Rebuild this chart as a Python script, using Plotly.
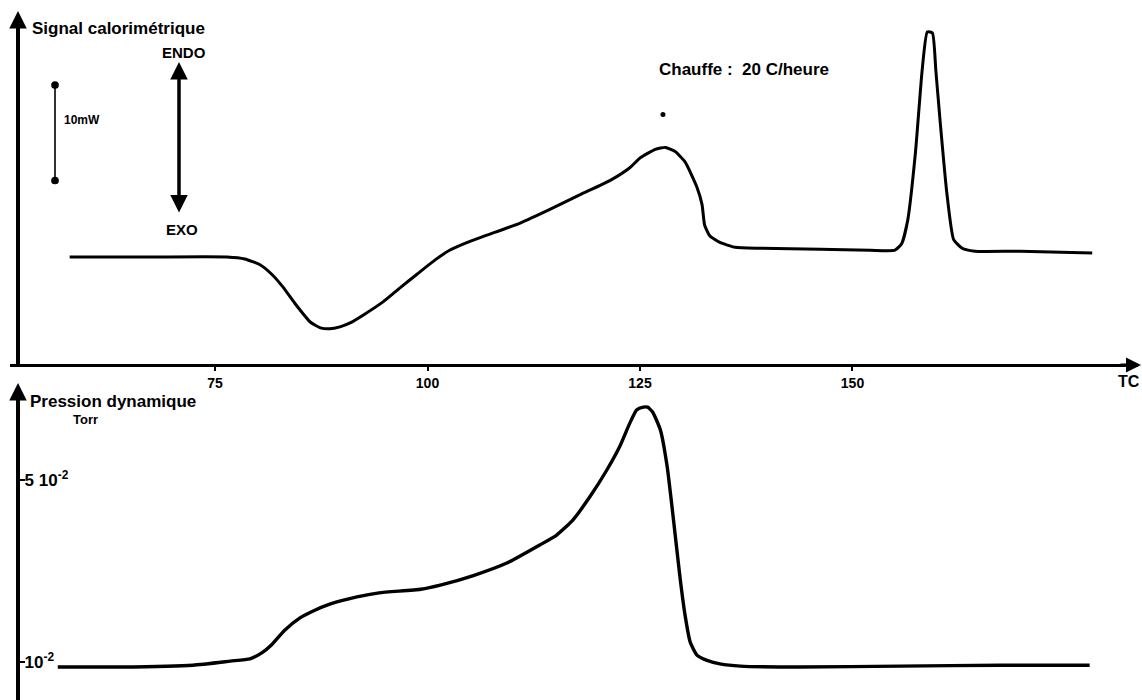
import plotly.graph_objects as go

# ---- Data ----
# Calorimetric signal (mW, ENDO upwards, baseline = 0) vs temperature (°C)
T_cal = [57.9, 67.4, 76.4, 78.5, 80.3, 81.7, 83.0, 84.5, 86.2, 87.4,
         88.5, 89.7, 90.9, 92.6, 94.8, 96.8, 98.8, 100.9, 102.6, 104.4,
         106.5, 110.9, 114.4, 117.9, 121.5, 123.8, 125.0, 126.8, 128.0, 129.1,
         130.3, 131.7, 132.3, 132.6, 133.2, 134.4, 136.2, 139.1, 146.2, 152.1,
         155.0, 155.8, 156.5, 157.4, 158.2, 158.8, 159.4, 159.8, 160.3, 161.1,
         161.9, 162.9, 164.4, 169.7, 178.2]
S_cal = [0, 0, 0, -0.2, -0.8, -1.8, -3.1, -4.9, -6.7, -7.3,
         -7.4, -7.2, -6.8, -5.9, -4.6, -3.15, -1.75, -0.3, 0.7, 1.4,
         2.1, 3.5, 4.9, 6.4, 7.9, 9.2, 10.2, 11.1, 11.3, 10.9,
         9.8, 7.2, 5.4, 3.3, 2.2, 1.5, 1.0, 0.9, 0.8, 0.7,
         0.7, 1.4, 3.8, 10.7, 19.3, 23.2, 23.1, 19.3, 14.1, 6.6,
         1.8, 0.9, 0.6, 0.6, 0.4]

# Dynamic pressure (units of 1e-2 Torr) vs temperature (°C)
T_p = [56.5, 63.8, 72.4, 76.8, 79.1, 80.5, 81.6, 83.2, 85.0, 86.3,
       88.5, 91.7, 94.3, 99.2, 101.5, 105.4, 109.4, 113.2, 115.2, 117.1,
       119.1, 121.1, 122.6, 123.8, 124.6, 125.4, 125.9, 126.5, 127.4, 128.2,
       128.9, 129.7, 130.3, 130.9, 131.7, 132.8, 134.4, 136.8, 143.8, 155.6,
       167.4, 177.9]
P = [0.89, 0.89, 0.93, 1.02, 1.07, 1.20, 1.37, 1.70, 1.97, 2.10,
     2.27, 2.43, 2.52, 2.60, 2.69, 2.90, 3.18, 3.57, 3.79, 4.12,
     4.63, 5.22, 5.73, 6.25, 6.54, 6.60, 6.60, 6.49, 6.10, 5.29,
     4.19, 2.87, 2.03, 1.44, 1.15, 1.04, 0.96, 0.91, 0.89, 0.91,
     0.93, 0.93]

dot_T = [127.7]
dot_S = [14.7]

x_ticks = [75, 100, 125, 150]
x_ticktext = ["75", "100", "125", "150"]
p_ticks = [1, 5]
p_ticktext = ["10<sup>-2</sup>", "5 10<sup>-2</sup>"]

W, H = 1142, 700
FONT = "Liberation Sans"


def px(x):
    return x / W


def py(y):
    return 1 - y / H


fig = go.Figure()
fig.add_trace(go.Scatter(x=T_cal, y=S_cal, mode="lines", xaxis="x", yaxis="y",
                         line=dict(color="black", width=3, shape="spline", smoothing=0.5),
                         hoverinfo="skip"))
fig.add_trace(go.Scatter(x=dot_T, y=dot_S, mode="markers", xaxis="x", yaxis="y",
                         marker=dict(color="black", size=5), hoverinfo="skip"))
fig.add_trace(go.Scatter(x=T_p, y=P, mode="lines", xaxis="x", yaxis="y2",
                         line=dict(color="black", width=3.4, shape="spline", smoothing=0.5),
                         hoverinfo="skip"))

fig.update_layout(
    width=W, height=H,
    margin=dict(l=0, r=0, t=0, b=0),
    paper_bgcolor="white", plot_bgcolor="white",
    showlegend=False,
    font=dict(family=FONT, color="black"),
    xaxis=dict(domain=[px(10), px(1138)], range=[50.88, 183.59],
               anchor="free", position=py(365),
               showline=True, linecolor="black", linewidth=3,
               showgrid=False, zeroline=False,
               ticks="outside", ticklen=4, tickwidth=2, tickcolor="black",
               tickvals=x_ticks, ticktext=["<b>%s</b>" % t for t in x_ticktext],
               tickfont=dict(family=FONT, size=14, color="black")),
    yaxis=dict(domain=[py(365), py(20)], range=[-11.134, 24.433],
               anchor="free", position=px(18),
               showline=True, linecolor="black", linewidth=4,
               showgrid=False, zeroline=False, showticklabels=False, ticks=""),
    yaxis2=dict(domain=[0, py(390)], range=[0.1648, 6.978],
                anchor="free", position=px(18),
                showline=True, linecolor="black", linewidth=4,
                showgrid=False, zeroline=False,
                ticks="inside", ticklen=5, tickwidth=2, tickcolor="black",
                tickvals=p_ticks, ticktext=["<b>%s</b>" % t for t in p_ticktext],
                ticklabelposition="inside",
                tickfont=dict(family=FONT, size=17, color="black")),
)

ann = []


def text(s, x, y, size=13, anchor="left"):
    ann.append(dict(text="<b>%s</b>" % s, x=px(x), y=py(y), xref="paper", yref="paper",
                    xanchor=anchor, yanchor="middle", showarrow=False,
                    font=dict(family=FONT, size=size, color="black")))


def arrow(x, y, ax, ay, width=3, head=2, side="end", size=1.0):
    ann.append(dict(text="", x=px(x), y=py(y), xref="paper", yref="paper",
                    ax=ax, ay=ay, axref="pixel", ayref="pixel",
                    showarrow=True, arrowhead=head, arrowwidth=width,
                    arrowsize=size, arrowside=side, arrowcolor="black"))


text("Signal calorimétrique", 30, 28, 17)
text("ENDO", 184, 52, 15, "center")
text("EXO", 182, 229, 15, "center")
text("10mW", 62, 120, 12)
text("Chauffe :  20 C/heure", 657, 70, 17)
text("Pression dynamique", 28, 401, 17)
text("Torr", 71, 419, 13)
text("TC", 1129, 381, 16, "center")

# axis arrow heads
arrow(1141, 365, -22, 0, width=3)
arrow(18, 11, 0, 24, width=3.5)
arrow(18, 383, 0, 24, width=3.5)
# ENDO / EXO double arrow
arrow(179, 62, 0, 152, width=3.5, side="end+start")
# scale bar
arrow(55, 85, 0, 97, width=1.6, head=6, side="end+start", size=1.2)

fig.update_layout(annotations=ann)

fig.write_html("out.html", config={"displayModeBar": False},
               post_script="document.body.style.margin='0';document.body.style.overflow='hidden';")
